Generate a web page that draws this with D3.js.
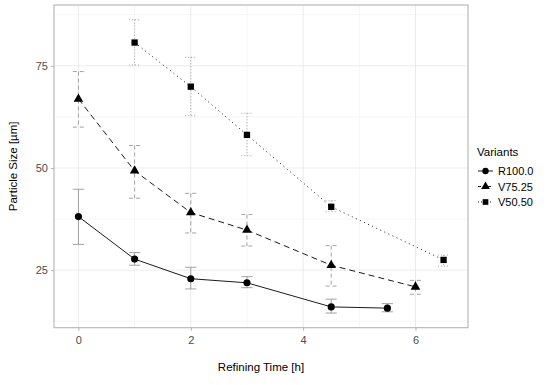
<!DOCTYPE html>
<html><head><meta charset="utf-8">
<script src="https://cdn.jsdelivr.net/npm/d3@7"></script>
<style>body{margin:0;background:#fff}svg{display:block}text{font-family:"Liberation Sans",Arial,sans-serif}</style>
</head><body><svg id="c" width="550" height="385"></svg>
<script>
const variants = ["R100.0", "V75.25", "V50.50"];
const timesR = [0, 1, 2, 3, 4.5, 5.5];
const meanR  = [38.1, 27.7, 22.9, 21.9, 16.0, 15.7];
const lowR   = [31.3, 26.2, 20.4, 20.7, 14.5, 14.8];
const highR  = [44.8, 29.3, 25.7, 23.4, 17.9, 16.8];
const timesV75 = [0, 1, 2, 3, 4.5, 6];
const meanV75  = [66.9, 49.3, 39.1, 34.8, 26.2, 20.9];
const lowV75   = [60.0, 42.6, 34.1, 30.9, 21.1, 19.1];
const highV75  = [73.6, 55.5, 43.8, 38.6, 31.0, 22.5];
const timesV50 = [1, 2, 3, 4.5, 6.5];
const meanV50  = [80.7, 69.9, 58.1, 40.5, 27.5];
const lowV50   = [75.2, 62.8, 53.0, 39.3, 26.0];
const highV50  = [86.3, 77.1, 63.4, 42.0, 28.7];
const xTicks = [0, 2, 4, 6];
const yTicks = [25, 50, 75];
const xLabel = "Refining Time [h]";
const yLabel = "Particle Size [µm]";
const legendTitle = "Variants";

const series = [
  {name: variants[0], t: timesR, m: meanR, lo: lowR, hi: highR, shape: d3.symbolCircle, dash: null, ebDash: null, keyDash: null},
  {name: variants[1], t: timesV75, m: meanV75, lo: lowV75, hi: highV75, shape: d3.symbolTriangle, dash: "6,4", ebDash: "4,3", keyDash: "3,2"},
  {name: variants[2], t: timesV50, m: meanV50, lo: lowV50, hi: highV50, shape: d3.symbolSquare, dash: "1,3.5", ebDash: "1,2", keyDash: "1,2"}
];

const svg = d3.select("#c");
const P = {l: 54, r: 468, t: 5, b: 327.7};
const capW = 0.2;
const allT = series.flatMap(s => s.t);
const xmin = d3.min(allT) - capW/2, xmax = d3.max(allT) + capW/2;
const xpad = (xmax - xmin) * 0.05;
const x = d3.scaleLinear().domain([xmin - xpad, xmax + xpad]).range([P.l, P.r]);
const ymin = d3.min(series.flatMap(s => s.lo)), ymax = d3.max(series.flatMap(s => s.hi));
const ypad = (ymax - ymin) * 0.05;
const y = d3.scaleLinear().domain([ymin - ypad, ymax + ypad]).range([P.b, P.t]);

// grid
const g = svg.append("g");
const xMinor = [1, 3, 5];
const yMinor = [12.5, 37.5, 62.5, 87.5];
g.selectAll(".xm").data(xMinor).join("line").attr("x1", d => x(d)).attr("x2", d => x(d)).attr("y1", P.t).attr("y2", P.b).attr("stroke", "#f0f0f0").attr("stroke-width", 0.6);
g.selectAll(".ym").data(yMinor).join("line").attr("y1", d => y(d)).attr("y2", d => y(d)).attr("x1", P.l).attr("x2", P.r).attr("stroke", "#f0f0f0").attr("stroke-width", 0.6);
g.selectAll(".xM").data(xTicks).join("line").attr("x1", d => x(d)).attr("x2", d => x(d)).attr("y1", P.t).attr("y2", P.b).attr("stroke", "#e6e6e6").attr("stroke-width", 0.8);
g.selectAll(".yM").data(yTicks).join("line").attr("y1", d => y(d)).attr("y2", d => y(d)).attr("x1", P.l).attr("x2", P.r).attr("stroke", "#e6e6e6").attr("stroke-width", 0.8);

// axes
const xa = svg.append("g").attr("transform", `translate(0,${P.b})`).call(d3.axisBottom(x).tickValues(xTicks).tickSize(3).tickPadding(6).tickFormat(d3.format("d")));
const ya = svg.append("g").attr("transform", `translate(${P.l},0)`).call(d3.axisLeft(y).tickValues(yTicks).tickSize(3).tickPadding(3).tickFormat(d3.format("d")));
[xa, ya].forEach(a => {
  a.select(".domain").remove();
  a.selectAll(".tick line").attr("stroke", "#b3b3b3");
  a.selectAll(".tick text").attr("fill", "#4d4d4d").style("font-size", "11px").style("font-family", "Liberation Sans, Arial, sans-serif");
});

// border
svg.append("rect").attr("x", P.l).attr("y", P.t).attr("width", P.r - P.l).attr("height", P.b - P.t).attr("fill", "none").attr("stroke", "#b3b3b3").attr("stroke-width", 1.1);

// series
const line = d3.line().x(d => x(d[0])).y(d => y(d[1]));
series.forEach(s => {
  const pts = s.t.map((t, i) => ({t, m: s.m[i], lo: s.lo[i], hi: s.hi[i]}));
  const eb = svg.append("g").attr("stroke", "#999").attr("stroke-width", 0.9).attr("fill", "none").attr("stroke-dasharray", s.ebDash);
  pts.forEach(p => {
    eb.append("path").attr("d", `M${x(p.t - capW/2)},${y(p.hi)}H${x(p.t + capW/2)}M${x(p.t)},${y(p.hi)}V${y(p.lo)}M${x(p.t - capW/2)},${y(p.lo)}H${x(p.t + capW/2)}`);
  });
  svg.append("path").datum(pts.map(p => [p.t, p.m])).attr("d", line).attr("fill", "none").attr("stroke", "#000").attr("stroke-width", 0.9).attr("stroke-dasharray", s.dash);
  const sym = d3.symbol().type(s.shape).size(40);
  svg.append("g").selectAll("path").data(pts).join("path").attr("d", sym).attr("transform", p => `translate(${x(p.t)},${y(p.m)})`).attr("fill", "#000");
});

// axis titles
svg.append("text").attr("x", (P.l + P.r)/2).attr("y", 371).attr("text-anchor", "middle").style("font-size", "11.5px").attr("fill", "#000").text(xLabel);
svg.append("text").attr("transform", `translate(17,${(P.t + P.b)/2}) rotate(-90)`).attr("text-anchor", "middle").style("font-size", "11.5px").attr("fill", "#000").text(yLabel);

// legend
const lg = svg.append("g").attr("transform", "translate(477,0)");
lg.append("text").attr("x", 0).attr("y", 156).style("font-size", "11.5px").text(legendTitle);
series.forEach((s, i) => {
  const cy = 171 + i * 15.5;
  lg.append("line").attr("x1", 1).attr("x2", 16).attr("y1", cy).attr("y2", cy).attr("stroke", "#000").attr("stroke-width", 0.9).attr("stroke-dasharray", s.keyDash);
  lg.append("path").attr("d", d3.symbol().type(s.shape).size(32)).attr("transform", `translate(8.5,${cy})`).attr("fill", "#000");
  lg.append("text").attr("x", 21).attr("y", cy + 4).style("font-size", "11px").text(s.name);
});
</script></body></html>
